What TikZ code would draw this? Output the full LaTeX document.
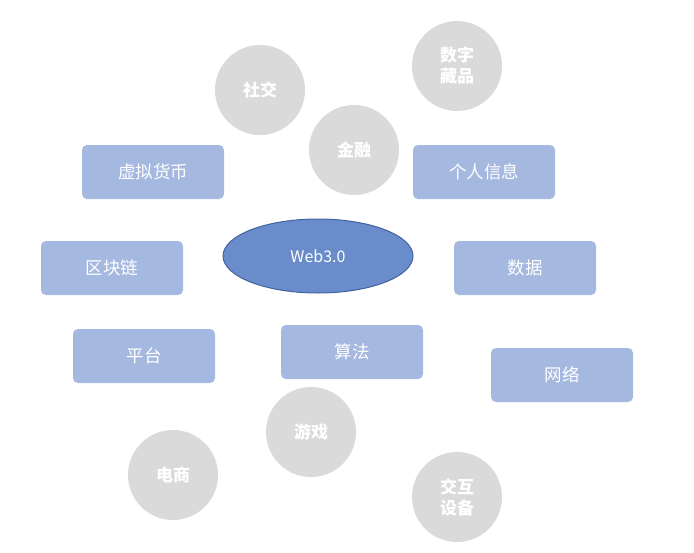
\documentclass[tikz,border=0pt]{standalone}
\usepackage{fontspec}
\setmainfont{Noto Sans CJK SC}
\usetikzlibrary{shapes.geometric}
\definecolor{boxc}{HTML}{A5B8DF}
\definecolor{ellc}{HTML}{6A8CCB}
\definecolor{ellb}{HTML}{41649F}
\definecolor{circ}{HTML}{DADADA}
\tikzset{
 box/.style={draw=none,fill=boxc,rounded corners=5pt,minimum width=142pt,minimum height=54pt,text=white,font=\fontsize{17.5}{20}\selectfont},
 bub/.style={circle,draw=none,fill=circ,minimum size=90pt,text=white,font=\bfseries\fontsize{17}{21}\selectfont,align=center,inner sep=0pt},
}
\begin{document}
\begin{tikzpicture}[x=1pt,y=-1pt]
\useasboundingbox[fill=white] (0,0) rectangle (694,552);
\node[ellipse,draw=ellb,line width=1pt,fill=ellc,minimum width=190pt,minimum height=74pt,text=white,font=\fontsize{16}{19}\selectfont] (web) at (318,256) {Web3.0};
\node[box] (xn) at (153,172) {虚拟货币};
\node[box] (gr) at (484,172) {个人信息};
\node[box] (qk) at (112,268) {区块链};
\node[box] (sj) at (525,268) {数据};
\node[box] (pt) at (144,356) {平台};
\node[box] (sf) at (352,352) {算法};
\node[box] (wl) at (562,375) {网络};
\node[bub] (sjj) at (260,90) {社交};
\node[bub] (sz) at (457,66) {数字\\藏品};
\node[bub] (jr) at (354,150) {金融};
\node[bub] (yx) at (311,432) {游戏};
\node[bub] (ds) at (173,475) {电商};
\node[bub] (jh) at (457,497) {交互\\设备};
\end{tikzpicture}
\end{document}
